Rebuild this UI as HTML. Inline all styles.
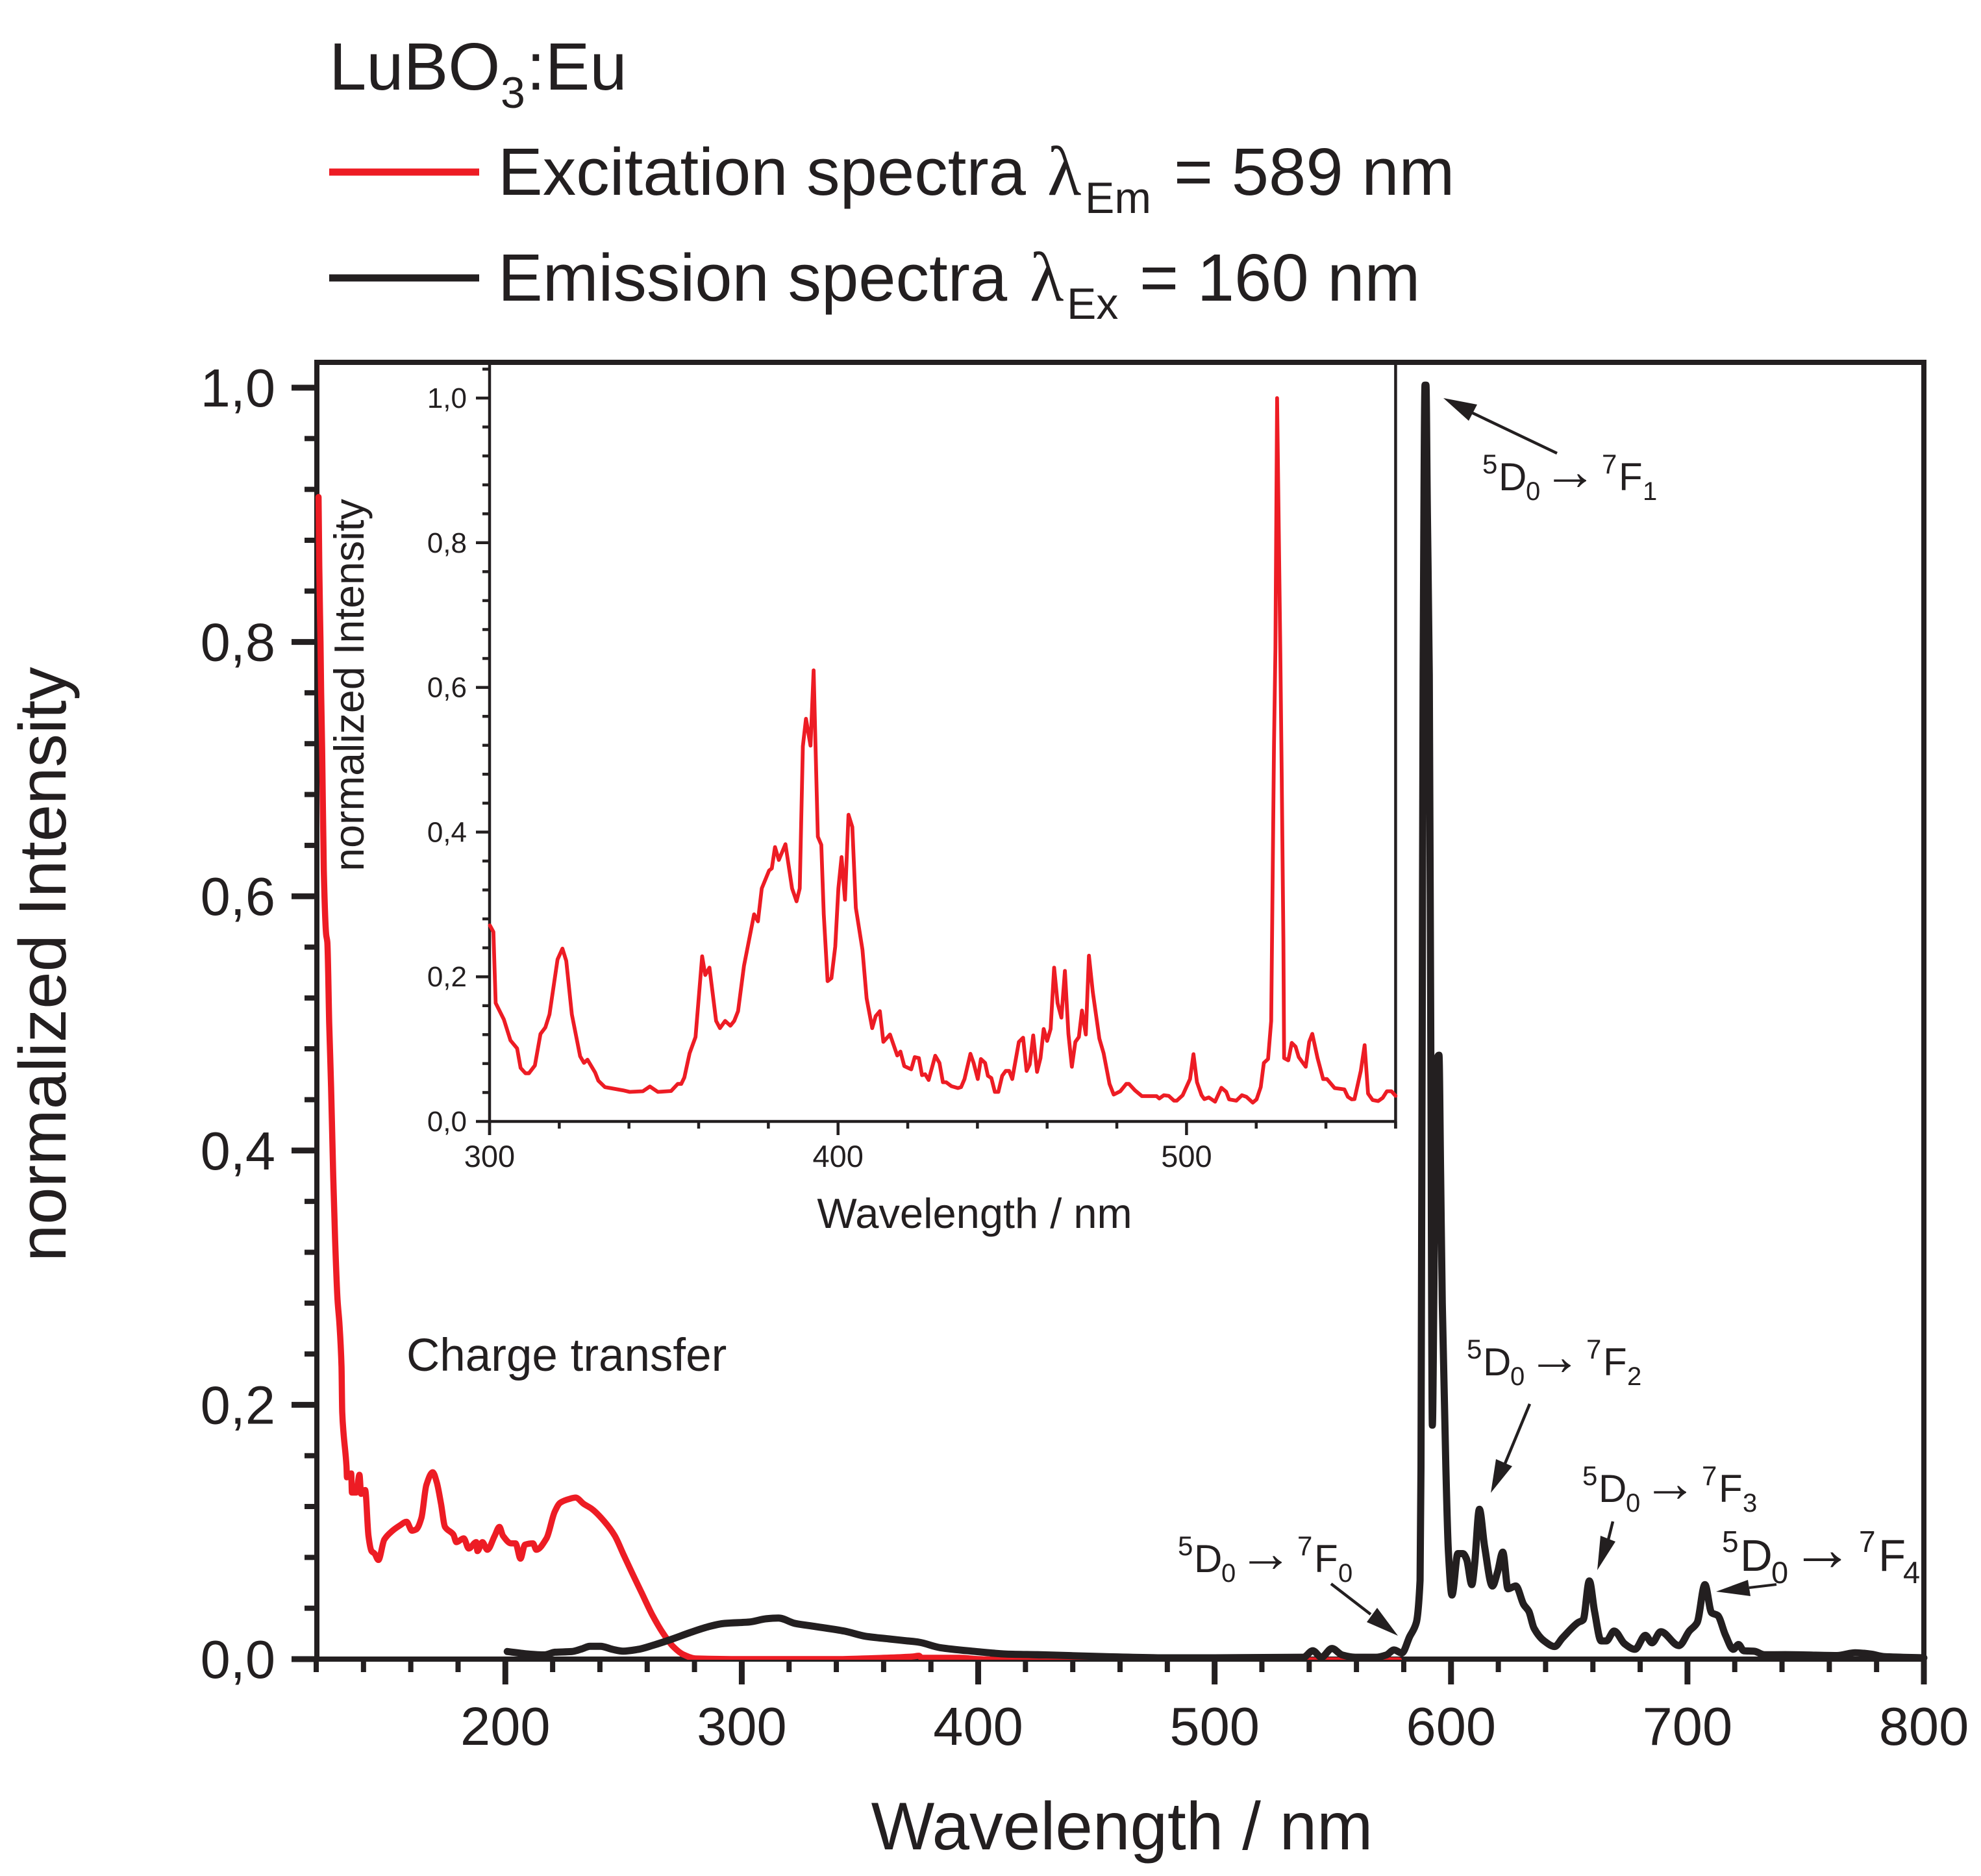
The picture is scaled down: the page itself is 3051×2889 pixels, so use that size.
<!DOCTYPE html>
<html lang="en">
<head>
<meta charset="utf-8">
<title>LuBO3:Eu excitation and emission spectra</title>
<style>
html,body{margin:0;padding:0;background:#fff;}
svg{display:block;}
text{font-family:"Liberation Sans",Arial,sans-serif;fill:#231f20;}
.lam{font-family:"Liberation Serif","Liberation Sans",serif;}
</style>
</head>
<body>
<svg id="chart" xmlns="http://www.w3.org/2000/svg" width="3051" height="2889" viewBox="0 0 3051 2889">
  <defs>
    <clipPath id="plot-clip"><rect x="0" y="0" width="3051" height="2556"/></clipPath>
  </defs>
  <rect width="3051" height="2889" fill="#ffffff"/>

  <g id="legend">
    <text x="507" y="138" font-size="103">LuBO</text>
    <text x="771" y="166" font-size="68">3</text>
    <text x="811" y="138" font-size="103">:Eu</text>

    <line x1="507" x2="738" y1="265" y2="265" stroke="#ed1c24" stroke-width="11"/>
    <text x="767" y="300" font-size="103">Excitation spectra</text>
    <text class="lam" x="1613" y="300" font-size="108">λ</text>
    <text x="1671" y="328" font-size="68">Em</text>
    <text x="1808" y="300" font-size="103">= 589 nm</text>

    <line x1="507" x2="738" y1="428" y2="428" stroke="#231f20" stroke-width="11"/>
    <text x="767" y="463" font-size="103">Emission spectra</text>
    <text class="lam" x="1586" y="463" font-size="108">λ</text>
    <text x="1643" y="491" font-size="68">Ex</text>
    <text x="1755" y="463" font-size="103">= 160 nm</text>
  </g>

  <g id="main-axes"></g>
  <g id="inset-axes"></g>
  <g id="series"></g>

  <text x="1728" y="2848" font-size="103.5" text-anchor="middle">Wavelength / nm</text>
  <text transform="translate(101 1485) rotate(-90)" font-size="103" text-anchor="middle">normalized Intensity</text>
  <text x="1501" y="1891" font-size="65" text-anchor="middle">Wavelength / nm</text>
  <text transform="translate(560 1055) rotate(-90)" font-size="64.5" text-anchor="middle">normalized Intensity</text>
  <text x="626" y="2111" font-size="71">Charge transfer</text>

  <g transform="translate(2283 755)">
    <text x="0" y="-26" font-size="42">5</text><text x="25" y="0" font-size="60">D</text><text x="67" y="15" font-size="40">0</text>
    <text x="93" y="-1" font-size="84">→</text>
    <text x="184" y="-26" font-size="42">7</text><text x="210" y="0" font-size="60">F</text><text x="247" y="15" font-size="40">1</text>
  </g>
  <g transform="translate(2259 2118)">
    <text x="0" y="-26" font-size="42">5</text><text x="25" y="0" font-size="60">D</text><text x="67" y="15" font-size="40">0</text>
    <text x="93" y="-1" font-size="84">→</text>
    <text x="184" y="-26" font-size="42">7</text><text x="210" y="0" font-size="60">F</text><text x="247" y="15" font-size="40">2</text>
  </g>
  <g transform="translate(2437 2313)">
    <text x="0" y="-26" font-size="42">5</text><text x="25" y="0" font-size="60">D</text><text x="67" y="15" font-size="40">0</text>
    <text x="93" y="-1" font-size="84">→</text>
    <text x="184" y="-26" font-size="42">7</text><text x="210" y="0" font-size="60">F</text><text x="247" y="15" font-size="40">3</text>
  </g>
  <g transform="translate(1814 2421)">
    <text x="0" y="-26" font-size="42">5</text><text x="25" y="0" font-size="60">D</text><text x="67" y="15" font-size="40">0</text>
    <text x="93" y="-1" font-size="84">→</text>
    <text x="184" y="-26" font-size="42">7</text><text x="210" y="0" font-size="60">F</text><text x="247" y="15" font-size="40">0</text>
  </g>
  <g transform="translate(2652 2419)">
    <text x="0" y="-29" font-size="46">5</text><text x="28" y="0" font-size="69">D</text><text x="76" y="19" font-size="47">0</text>
    <text x="106" y="-1" font-size="97">→</text>
    <text x="211" y="-29" font-size="46">7</text><text x="241" y="0" font-size="69">F</text><text x="279" y="19" font-size="47">4</text>
  </g>

  <g stroke="#231f20" fill="#231f20">
    <g><line x1="2398" y1="698" x2="2268" y2="636" stroke-width="4.5"/><polygon stroke="none" points="2223,613 2275,623 2262,648"/></g>
    <g><line x1="2356" y1="2162" x2="2317" y2="2256" stroke-width="4.5"/><polygon stroke="none" points="2296,2299 2304,2247 2329,2258"/></g>
    <g><line x1="2484" y1="2343" x2="2477" y2="2371" stroke-width="4.5"/><polygon stroke="none" points="2460,2418 2465,2365 2488,2374"/></g>
    <g><line x1="2736" y1="2440" x2="2694" y2="2445" stroke-width="4"/><polygon stroke="none" points="2643,2451 2692,2433 2696,2458"/></g>
    <g><line x1="2050" y1="2439" x2="2111" y2="2486" stroke-width="4.5"/><polygon stroke="none" points="2153,2519 2121,2476 2105,2498"/></g>
  </g>
</svg>

<script>
// Main chart data
const excitationWavelength = [121,121.3,121.8,122.1,122.5,123.2,124.2,124.7,125.5,126.3,127.2,128,129,129.9,130.7,131,131.6,132.8,133,134.8,135.1,136.9,138.3,139,140.7,142.1,143.4,144.7,146.3,148.8,152.3,155.3,158.2,160.5,162.3,164.5,166.6,169.3,171,172.8,174.5,178,179.3,182.4,184.5,187.7,188.2,190.3,192.4,195.5,197.5,199,202.5,204.3,206.4,208.3,211.7,213.1,217.4,220.9,223.2,227.1,229.7,233.2,236.7,242,246.3,249.8,253.3,257.7,262.1,266.5,270.9,275.2,280.5,300,340,352,360,372,375,376,385,392,400,415,427,500,578];
const excitationIntensity = [0.914,0.86,0.80,0.76,0.716,0.62,0.57,0.564,0.50,0.45,0.38,0.33,0.283,0.262,0.23,0.194,0.177,0.152,0.143,0.146,0.131,0.131,0.145,0.130,0.133,0.097,0.085,0.083,0.078,0.094,0.101,0.105,0.108,0.101,0.102,0.111,0.137,0.147,0.139,0.122,0.104,0.098,0.092,0.095,0.087,0.092,0.085,0.092,0.086,0.097,0.104,0.097,0.091,0.091,0.079,0.090,0.091,0.086,0.095,0.116,0.123,0.126,0.127,0.122,0.118,0.108,0.097,0.083,0.069,0.052,0.035,0.021,0.010,0.0037,0.0005,0,0,0.0005,0.001,0.002,0.0026,0.001,0.001,0.001,0,-0.001,-0.002,-0.001,-0.001];
const emissionWavelength = [200.8,208.7,216.6,221,228,232.3,235.8,240.2,245.5,249.8,256,263,270,277.9,285.7,292.7,303.3,310.3,315.5,322.5,331.3,343.5,352.3,362.8,370.2,375,384,399,412,425,453,480,500,537.6,541.5,545.2,549.6,554,559.5,568.2,572.6,575.9,579.2,582.5,585.3,586.9,587.3,587.8,588.2,589,589.4,590,590.8,591.4,592.1,592.8,593.7,594.9,595.6,596.3,597.8,598.9,600.4,602.9,605,606.6,608.8,609.9,612,614.2,617.5,619.7,621.9,624.1,627.4,630.7,632.9,635.1,639.4,643.8,647.1,653.7,655.9,658.5,660.7,663.5,665.7,669,673.4,677.8,682.2,685,688.7,696.4,700.8,704.1,707.4,710.2,712.8,716.1,719.4,721.6,723.8,728.2,732.6,741.3,763.2,770.9,777.5,783,800];
const emissionIntensity = [0.006,0.0042,0.0033,0.0054,0.0059,0.008,0.0101,0.0101,0.0076,0.0063,0.0076,0.0112,0.0154,0.0207,0.0254,0.0281,0.0292,0.0317,0.0323,0.0281,0.0256,0.022,0.018,0.0158,0.0143,0.0133,0.009,0.006,0.004,0.0035,0.002,0.001,0.001,0.0015,0.0066,0.0015,0.0084,0.0032,0.0015,0.0015,0.0032,0.0072,0.0048,0.0177,0.0287,0.062,0.151,0.5,0.774,1.002,1.002,0.9,0.774,0.5,0.184,0.3,0.47,0.475,0.38,0.28,0.151,0.084,0.0504,0.083,0.083,0.0785,0.0586,0.073,0.1178,0.0885,0.0575,0.0686,0.0841,0.0553,0.0575,0.043,0.0376,0.0243,0.0143,0.0099,0.0166,0.0287,0.0309,0.0615,0.0376,0.0143,0.0143,0.0221,0.0121,0.0077,0.0187,0.0128,0.0216,0.0106,0.0221,0.0287,0.0586,0.0365,0.0343,0.0188,0.0077,0.0115,0.0066,0.0062,0.0034,0.0035,0.0028,0.005,0.004,0.002,0.001];

// Inset chart data
const insetWavelength = [300.1,301.1,301.75,304.1,306,307.9,308.9,310.3,311.3,313,314.6,316,317.2,319.5,320.9,322,323.6,326,327.1,328.1,330.3,331.2,333.1,338.3,340.2,344,346,348.3,352.1,354,355,355.9,357.4,359.1,361,361.9,363.1,365,366.1,367.6,369.1,370.2,371.3,373,375.9,377,378.1,380.2,381,381.9,383,384.9,386.8,388.1,389,389.9,390.8,392.1,393,393.7,394.2,395.2,395.9,397,398.1,399.2,400.1,401,402,403,404.1,405.1,407,408.2,409.8,410.8,412,413,414.9,417,417.9,419,421,422,423.2,424.1,425,426,427.9,429.1,430.1,431,432.5,434.4,435.3,436.3,438,438.9,440.1,441,442.2,443,444,445,446,447.1,448.1,449.1,450,451.9,453.1,454.1,455,456,457.1,458.1,459,460,461,462,463,464.1,465.1,466.1,467.1,468.1,469.1,470,471.1,472,473.1,475,476.2,477.9,479.1,481,482.7,483.5,485.2,487.2,491.4,492.2,493.5,494.9,496.4,497.2,498.9,501,502,503,504.3,505.1,506.4,508.2,510,511.4,512.2,514.3,515.9,517.2,519,520.1,521.3,522.2,523.4,524.3,524.7,525.1,525.5,526,526.9,527.3,527.8,528,529.2,530.2,531.3,532.2,534.2,535.2,536.1,537.6,539.2,540.3,542.5,545.3,546.3,547.4,548.2,550,551.1,552.1,553.4,555,556.3,557.5,558.8,560];
const insetIntensity = [0.271,0.262,0.1636,0.141,0.112,0.101,0.074,0.0666,0.0666,0.0774,0.121,0.13,0.148,0.224,0.239,0.222,0.148,0.09,0.081,0.0854,0.0676,0.0564,0.0475,0.043,0.0408,0.0417,0.0483,0.0408,0.0421,0.0519,0.0519,0.0608,0.0943,0.1167,0.2283,0.2024,0.2127,0.139,0.129,0.139,0.1323,0.139,0.1524,0.215,0.2864,0.2766,0.3221,0.3467,0.3498,0.3793,0.3614,0.3833,0.3221,0.3043,0.3221,0.5186,0.5566,0.5195,0.6236,0.4874,0.3936,0.3824,0.2864,0.1939,0.198,0.2417,0.3221,0.3654,0.3065,0.424,0.407,0.2953,0.2373,0.1703,0.129,0.1457,0.1524,0.11,0.1202,0.0912,0.0966,0.0765,0.072,0.089,0.0876,0.064,0.0653,0.0573,0.0908,0.0809,0.0542,0.0542,0.0488,0.0461,0.0475,0.0586,0.0935,0.0809,0.0586,0.0863,0.0809,0.0631,0.06,0.0408,0.0408,0.0631,0.0698,0.0698,0.0586,0.11,0.1158,0.0698,0.0787,0.1189,0.0685,0.0876,0.1278,0.1113,0.1278,0.2127,0.1636,0.1435,0.2082,0.1211,0.0756,0.11,0.1167,0.1533,0.1202,0.2292,0.1792,0.1144,0.0943,0.0519,0.0372,0.0417,0.0519,0.0519,0.043,0.035,0.035,0.0318,0.0363,0.0354,0.0287,0.0287,0.0363,0.0586,0.093,0.0542,0.0363,0.0309,0.0332,0.0273,0.0466,0.0408,0.0305,0.0287,0.0363,0.034,0.026,0.0305,0.0475,0.0809,0.0863,0.139,0.331,0.5186,0.6526,1.0,0.6526,0.4874,0.2507,0.0876,0.0845,0.1086,0.1033,0.089,0.0756,0.11,0.1211,0.0876,0.0586,0.0586,0.0461,0.0443,0.034,0.0305,0.0309,0.0698,0.1055,0.0385,0.0296,0.0282,0.0327,0.0417,0.0417,0.0354];

// Tick values and printed labels
const mainXMajorTicks = [200,300,400,500,600,700,800];
const mainXMinorTicks = [120,140,160,180,220,240,260,280,320,340,360,380,420,440,460,480,520,540,560,580,620,640,660,680,720,740,760,780];
const mainXLabels = ["200","300","400","500","600","700","800"];
const mainYMajorTicks = [0,0.2,0.4,0.6,0.8,1.0];
const mainYMinorTicks = [0.04,0.08,0.12,0.16,0.24,0.28,0.32,0.36,0.44,0.48,0.52,0.56,0.64,0.68,0.72,0.76,0.84,0.88,0.92,0.96];
const mainYLabels = ["0,0","0,2","0,4","0,6","0,8","1,0"];
const insetXMajorTicks = [300,400,500];
const insetXMinorTicks = [320,340,360,380,420,440,460,480,520,540,560];
const insetXLabels = ["300","400","500"];
const insetYMajorTicks = [0,0.2,0.4,0.6,0.8,1.0];
const insetYMinorTicks = [0.04,0.08,0.12,0.16,0.24,0.28,0.32,0.36,0.44,0.48,0.52,0.56,0.64,0.68,0.72,0.76,0.84,0.88,0.92,0.96,1.04];
const insetYLabels = ["0,0","0,2","0,4","0,6","0,8","1,0"];

const NS = 'http://www.w3.org/2000/svg';
const INK = '#231f20';
const RED = '#ed1c24';

// Axis functions
function mainX(nm) { return 487 + (nm - 120) * 3.6412; }
function mainY(v) { return 2555 - v * 1958; }
function insetX(nm) { return 754 + (nm - 300) * 5.367; }
function insetY(v) { return 1727 - v * 1114; }

function svgLine(parent, x1, y1, x2, y2, width, color) {
  const el = document.createElementNS(NS, 'line');
  el.setAttribute('x1', x1);
  el.setAttribute('y1', y1);
  el.setAttribute('x2', x2);
  el.setAttribute('y2', y2);
  el.setAttribute('stroke', color);
  el.setAttribute('stroke-width', width);
  parent.appendChild(el);
  return el;
}

function svgText(parent, x, y, size, anchor, content) {
  const el = document.createElementNS(NS, 'text');
  el.setAttribute('x', x);
  el.setAttribute('y', y);
  el.setAttribute('font-size', size);
  el.setAttribute('text-anchor', anchor);
  el.textContent = content;
  parent.appendChild(el);
  return el;
}

function strokePath(parent, d, width, color) {
  const el = document.createElementNS(NS, 'path');
  el.setAttribute('d', d);
  el.setAttribute('fill', 'none');
  el.setAttribute('stroke', color);
  el.setAttribute('stroke-width', width);
  el.setAttribute('stroke-linejoin', 'round');
  el.setAttribute('stroke-linecap', 'round');
  parent.appendChild(el);
  return el;
}

// Straight segments between the data points
function linearPath(xs, ys, xFn, yFn) {
  let d = '';
  for (let i = 0; i < xs.length; i++) {
    d += (i ? 'L' : 'M') + xFn(xs[i]).toFixed(1) + ' ' + yFn(ys[i]).toFixed(1);
  }
  return d;
}

// Monotone cubic through the data points, giving rounded peaks without overshoot
function smoothPath(xs, ys, xFn, yFn) {
  const px = xs.map(xFn);
  const py = ys.map(yFn);
  const n = px.length;
  const slope = [];
  for (let i = 0; i < n - 1; i++) {
    slope.push((py[i + 1] - py[i]) / (px[i + 1] - px[i]));
  }
  const tangent = [slope[0]];
  for (let i = 1; i < n - 1; i++) {
    const a = slope[i - 1];
    const b = slope[i];
    tangent.push(a * b <= 0 ? 0 : 2 * a * b / (a + b));
  }
  tangent.push(slope[n - 2]);
  let d = 'M' + px[0].toFixed(1) + ' ' + py[0].toFixed(1);
  for (let i = 0; i < n - 1; i++) {
    const h = (px[i + 1] - px[i]) / 3;
    d += 'C' + (px[i] + h).toFixed(1) + ' ' + (py[i] + tangent[i] * h).toFixed(1) + ' ' +
      (px[i + 1] - h).toFixed(1) + ' ' + (py[i + 1] - tangent[i + 1] * h).toFixed(1) + ' ' +
      px[i + 1].toFixed(1) + ' ' + py[i + 1].toFixed(1);
  }
  return d;
}

const mainAxes = document.getElementById('main-axes');
const insetAxes = document.getElementById('inset-axes');
const seriesGroup = document.getElementById('series');

// Main frame
const frame = document.createElementNS(NS, 'rect');
frame.setAttribute('x', mainX(120) + 1);
frame.setAttribute('y', 558);
frame.setAttribute('width', mainX(800) - mainX(120) - 1);
frame.setAttribute('height', mainY(0) - 558);
frame.setAttribute('fill', 'none');
frame.setAttribute('stroke', INK);
frame.setAttribute('stroke-width', 8);


mainAxes.appendChild(frame);

// Main ticks
mainXMajorTicks.forEach(function (t, i) {
  const tick = svgLine(mainAxes, mainX(t), 2555, mainX(t), 2594, 9, INK);
  
  
  const label = svgText(mainAxes, mainX(t), 2687, 83, 'middle', mainXLabels[i]);
  
  
});
mainXMinorTicks.forEach(function (t) {
  const tick = svgLine(mainAxes, mainX(t), 2555, mainX(t), 2575, 8, INK);
  
  
});
mainYMajorTicks.forEach(function (t, i) {
  const tick = svgLine(mainAxes, 449, mainY(t), 488, mainY(t), 9, INK);
  
  
  const label = svgText(mainAxes, 424, mainY(t) + 29, 83, 'end', mainYLabels[i]);
  
  
});
mainYMinorTicks.forEach(function (t) {
  const tick = svgLine(mainAxes, 469, mainY(t), 488, mainY(t), 8, INK);
  
  
});

// Inset axes
const insetLeft = svgLine(insetAxes, insetX(300), 558, insetX(300), insetY(0) + 21, 4.5, INK);


const insetRight = svgLine(insetAxes, insetX(560), 558, insetX(560), insetY(0) + 11, 4.5, INK);


const insetBottom = svgLine(insetAxes, insetX(300), insetY(0), insetX(560), insetY(0), 4.5, INK);



insetXMajorTicks.forEach(function (t, i) {
  const tick = svgLine(insetAxes, insetX(t), 1727, insetX(t), 1748, 4.5, INK);
  
  
  const label = svgText(insetAxes, insetX(t), 1797, 47, 'middle', insetXLabels[i]);
  
  
});
insetXMinorTicks.forEach(function (t) {
  const tick = svgLine(insetAxes, insetX(t), 1727, insetX(t), 1738, 4.5, INK);
  
  
});
insetYMajorTicks.forEach(function (t, i) {
  const tick = svgLine(insetAxes, 733, insetY(t), 754, insetY(t), 4.5, INK);
  
  
  const label = svgText(insetAxes, 719, insetY(t) + 15, 44, 'end', insetYLabels[i]);
  
  
});
insetYMinorTicks.forEach(function (t) {
  const tick = svgLine(insetAxes, 743, insetY(t), 754, insetY(t), 4.5, INK);
  
  
});

// Series
const excitationLine = strokePath(seriesGroup, smoothPath(excitationWavelength, excitationIntensity, mainX, mainY), 9.5, RED);
excitationLine.setAttribute('clip-path', 'url(#plot-clip)');


const emissionLine = strokePath(seriesGroup, smoothPath(emissionWavelength, emissionIntensity, mainX, mainY), 11, INK);
emissionLine.setAttribute('clip-path', 'url(#plot-clip)');


const insetLine = strokePath(seriesGroup, linearPath(insetWavelength, insetIntensity, insetX, insetY), 5.8, RED);


</script>
</body>
</html>
